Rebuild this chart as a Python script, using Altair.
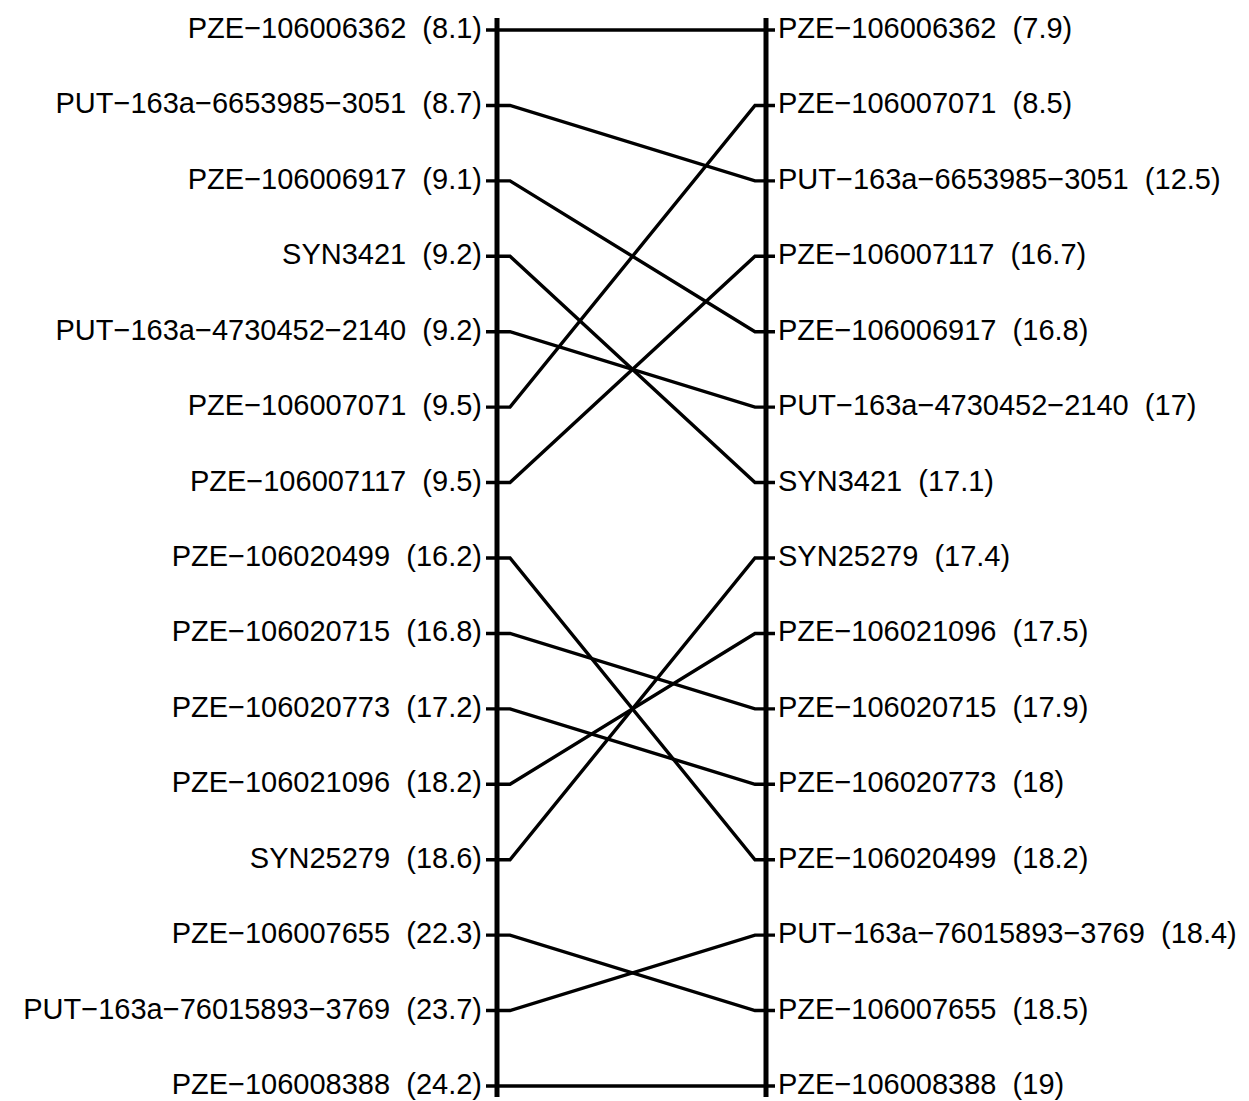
import altair as alt
import pandas as pd

# ---- data ----
left_names = ["PZE−106006362", "PUT−163a−6653985−3051", "PZE−106006917", "SYN3421",
              "PUT−163a−4730452−2140", "PZE−106007071", "PZE−106007117", "PZE−106020499",
              "PZE−106020715", "PZE−106020773", "PZE−106021096", "SYN25279",
              "PZE−106007655", "PUT−163a−76015893−3769", "PZE−106008388"]
left_pos = ["8.1", "8.7", "9.1", "9.2", "9.2", "9.5", "9.5", "16.2", "16.8", "17.2",
            "18.2", "18.6", "22.3", "23.7", "24.2"]

right_names = ["PZE−106006362", "PZE−106007071", "PUT−163a−6653985−3051", "PZE−106007117",
               "PZE−106006917", "PUT−163a−4730452−2140", "SYN3421", "SYN25279",
               "PZE−106021096", "PZE−106020715", "PZE−106020773", "PZE−106020499",
               "PUT−163a−76015893−3769", "PZE−106007655", "PZE−106008388"]
right_pos = ["7.9", "8.5", "12.5", "16.7", "16.8", "17", "17.1", "17.4", "17.5", "17.9",
             "18", "18.2", "18.4", "18.5", "19"]

# ---- layout constants (page pixels) ----
LEFT_X, RIGHT_X = 497, 766
TICK_L, TICK_R = 11, 13          # left axis tick extent
RTICK_L, RTICK_R = 11, 9         # right axis tick extent
FONT = 29
W, H = 1233, 1093

xs = alt.Scale(domain=[8, 8 + W], range=[0, W], zero=False, nice=False)
n = len(left_names)
ys = alt.Scale(domain=[0, n - 1], range=[22, 1078], zero=False, nice=False)

# labels
ldf = pd.DataFrame({"x": LEFT_X, "row": list(range(n)),
                    "label": [f"{nm}\u00a0\u00a0({p})" for nm, p in zip(left_names, left_pos)]})
rdf = pd.DataFrame({"x": RIGHT_X, "row": list(range(n)),
                    "label": [f"{nm}\u00a0\u00a0({p})" for nm, p in zip(right_names, right_pos)]})

# connections
conn = []
for i, nm in enumerate(left_names):
    j = right_names.index(nm)
    pts = [(LEFT_X - TICK_L, i), (LEFT_X + TICK_R, i), (RIGHT_X - RTICK_L, j), (RIGHT_X + RTICK_R, j)]
    for k, (px, r) in enumerate(pts):
        conn.append({"marker": nm, "k": k, "x": px, "row": r})
cdf = pd.DataFrame(conn)

# axis lines
adf = pd.DataFrame({"x": [LEFT_X, RIGHT_X], "r0": [-0.16, -0.16], "r1": [n - 1 + 0.146, n - 1 + 0.146]})

axes = alt.Chart(adf).mark_rule(color="black", strokeWidth=5, strokeCap="butt").encode(
    x=alt.X("x:Q", scale=xs, axis=None),
    y=alt.Y("r0:Q", scale=ys, axis=None),
    y2="r1:Q",
)

lines = alt.Chart(cdf).mark_line(color="black", strokeWidth=3.4, strokeJoin="miter").encode(
    x=alt.X("x:Q", scale=xs, axis=None),
    y=alt.Y("row:Q", scale=ys, axis=None),
    detail="marker:N",
    order="k:Q",
)

ltext = alt.Chart(ldf).mark_text(align="right", baseline="middle", dx=-15, dy=-1,
                                 font="Liberation Sans", fontSize=FONT, color="black").encode(
    x=alt.X("x:Q", scale=xs, axis=None),
    y=alt.Y("row:Q", scale=ys, axis=None),
    text="label:N",
)
rtext = alt.Chart(rdf).mark_text(align="left", baseline="middle", dx=12, dy=-1,
                                 font="Liberation Sans", fontSize=FONT, color="black").encode(
    x=alt.X("x:Q", scale=xs, axis=None),
    y=alt.Y("row:Q", scale=ys, axis=None),
    text="label:N",
)

chart = alt.layer(axes, lines, ltext, rtext).properties(
    width=W, height=H, autosize=alt.AutoSizeParams(type="none"), padding=0
).configure_view(stroke=None)

chart.save("out.html", embed_options={"renderer": "svg", "actions": False})
